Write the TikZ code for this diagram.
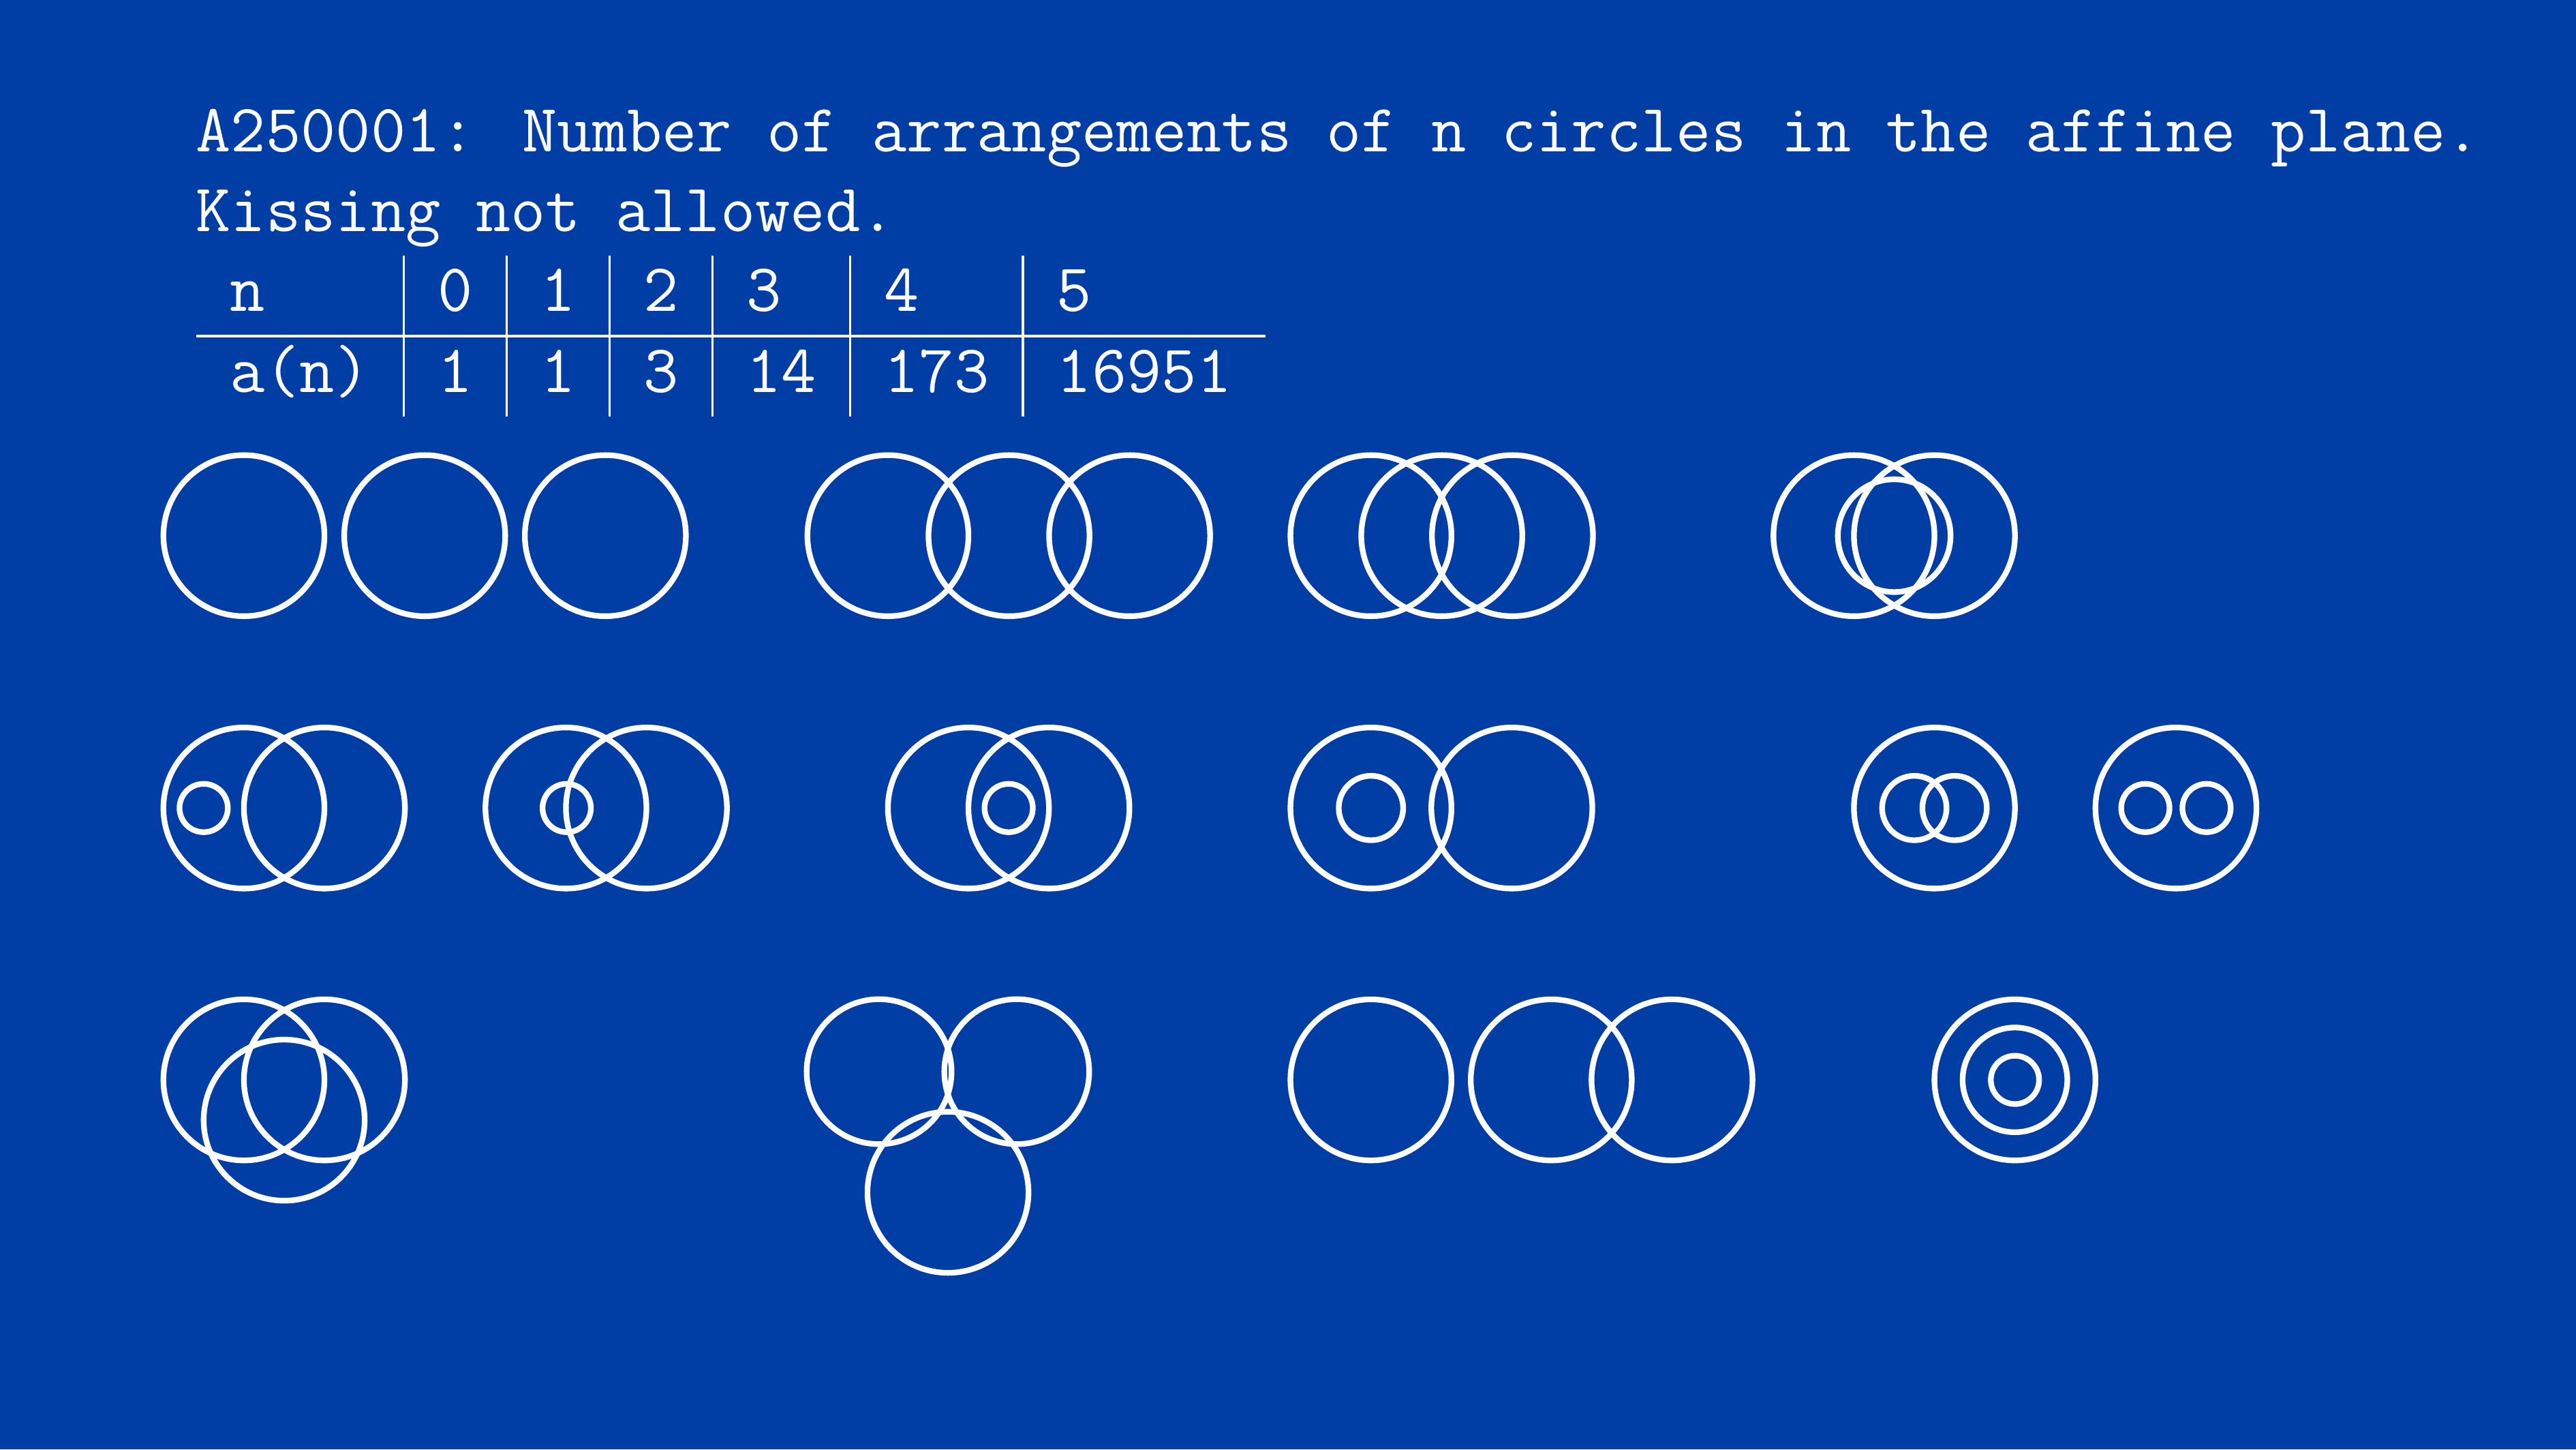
\documentclass[tikz,border=0pt]{standalone}
\usepackage{tikz}

\definecolor{slideblue}{RGB}{0,61,165}

\begin{document}
\begin{tikzpicture}[
  ring/.style={draw=white, line width=1pt},
  slidetext/.style={text=white, font=\large\ttfamily, inner sep=0pt}
]
  % 背景
  \fill[slideblue] (0,0) rectangle (16,9);

  % タイトル
  \node[slidetext, anchor=base west] (title1) at (1.21,8.058)
    {A250001: Number of arrangements of n circles in the affine plane.};
  \node[slidetext, anchor=base west] (title2) at (1.21,7.563)
    {Kissing not allowed.};

  % 表
  \node[slidetext, anchor=north west] (values) at (1.21,7.42) {%
    \begin{tabular}{l|l|l|l|l|l|l}
      n    & 0 & 1 & 2 & 3  & 4   & 5     \\ \hline
      a(n) & 1 & 1 & 3 & 14 & 173 & 16951
    \end{tabular}};

  % 1段目
  \draw[ring] (1.515,5.674) circle (0.5);
  \draw[ring] (2.638,5.674) circle (0.5);
  \draw[ring] (3.76,5.674) circle (0.5);

  \draw[ring] (5.515,5.674) circle (0.5);
  \draw[ring] (6.267,5.674) circle (0.5);
  \draw[ring] (7.016,5.674) circle (0.5);

  \draw[ring] (8.515,5.674) circle (0.5);
  \draw[ring] (8.955,5.674) circle (0.5);
  \draw[ring] (9.394,5.674) circle (0.5);

  \draw[ring] (11.515,5.674) circle (0.5);
  \draw[ring] (12.015,5.674) circle (0.5);
  \draw[ring] (11.765,5.674) circle (0.35);

  % 2段目
  \draw[ring] (1.515,3.983) circle (0.5);
  \draw[ring] (2.015,3.983) circle (0.5);
  \draw[ring] (1.265,3.983) circle (0.15);

  \draw[ring] (3.515,3.983) circle (0.5);
  \draw[ring] (4.015,3.983) circle (0.5);
  \draw[ring] (3.52,3.983) circle (0.15);

  \draw[ring] (6.015,3.983) circle (0.5);
  \draw[ring] (6.515,3.983) circle (0.5);
  \draw[ring] (6.265,3.983) circle (0.15);

  \draw[ring] (8.515,3.983) circle (0.5);
  \draw[ring] (9.39,3.983) circle (0.5);
  \draw[ring] (8.515,3.983) circle (0.2);

  \draw[ring] (12.015,3.983) circle (0.5);
  \draw[ring] (11.89,3.983) circle (0.2);
  \draw[ring] (12.14,3.983) circle (0.2);

  \draw[ring] (13.515,3.983) circle (0.5);
  \draw[ring] (13.325,3.983) circle (0.15);
  \draw[ring] (13.705,3.983) circle (0.15);

  % 3段目
  \draw[ring] (1.515,2.295) circle (0.5);
  \draw[ring] (2.015,2.295) circle (0.5);
  \draw[ring] (1.765,2.045) circle (0.5);

  \draw[ring] (5.46,2.346) circle (0.45);
  \draw[ring] (6.315,2.346) circle (0.45);
  \draw[ring] (5.888,1.597) circle (0.5);

  \draw[ring] (8.515,2.295) circle (0.5);
  \draw[ring] (9.635,2.295) circle (0.5);
  \draw[ring] (10.385,2.295) circle (0.5);

  \draw[ring] (12.515,2.295) circle (0.5);
  \draw[ring] (12.515,2.295) circle (0.325);
  \draw[ring] (12.515,2.295) circle (0.15);
\end{tikzpicture}
\end{document}
